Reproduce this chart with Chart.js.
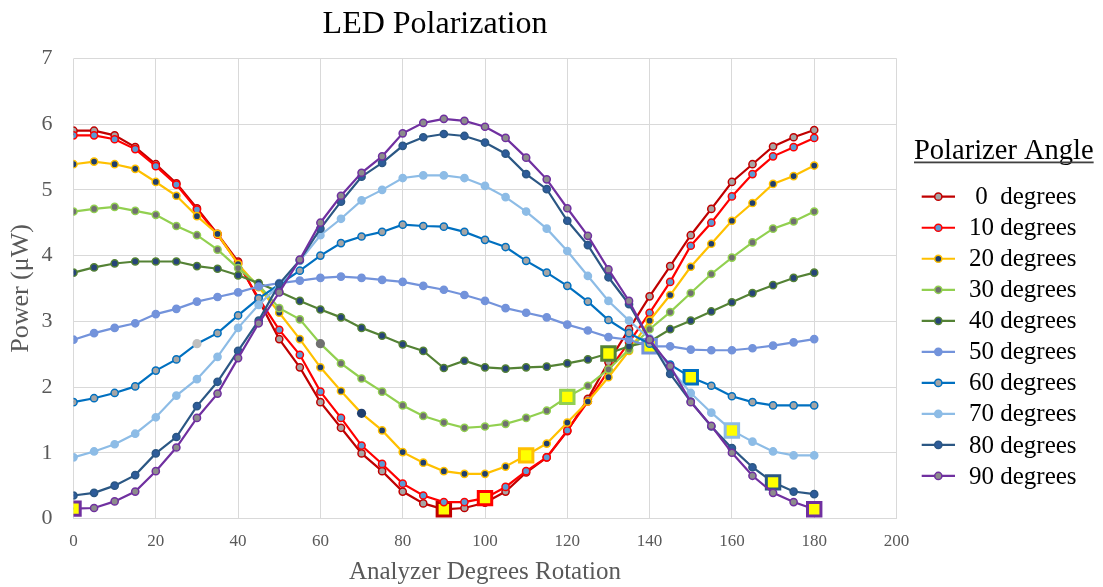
<!DOCTYPE html>
<html>
<head>
<meta charset="utf-8">
<title>LED Polarization</title>
<script src="https://cdn.jsdelivr.net/npm/chart.js@4.4.1/dist/chart.umd.min.js"></script>
<style>
  html, body { margin: 0; padding: 0; background: #ffffff; }
  #wrap { width: 1103px; height: 587px; }
</style>
</head>
<body>
<div id="wrap"><canvas id="chart" width="1103" height="587"></canvas></div>
<script>
// analyzer rotation (degrees)
const analyzer = [0, 5, 10, 15, 20, 25, 30, 35, 40, 45, 50, 55, 60, 65, 70, 75, 80, 85, 90,
                  95, 100, 105, 110, 115, 120, 125, 130, 135, 140, 145, 150, 155, 160, 165, 170, 175, 180];

// measured power (uW), one list per polarizer angle
const p0  = [5.90, 5.90, 5.83, 5.65, 5.39, 5.10, 4.72, 4.33, 3.91, 3.32, 2.73, 2.30, 1.77, 1.38, 0.99, 0.72, 0.41, 0.23, 0.14,
             0.16, 0.24, 0.41, 0.70, 0.93, 1.33, 1.82, 2.38, 2.88, 3.38, 3.84, 4.31, 4.71, 5.12, 5.39, 5.66, 5.80, 5.91];
const p10 = [5.83, 5.83, 5.77, 5.62, 5.36, 5.08, 4.70, 4.32, 3.88, 3.35, 2.87, 2.49, 1.93, 1.53, 1.11, 0.83, 0.53, 0.35, 0.25,
             0.25, 0.31, 0.48, 0.72, 0.93, 1.34, 1.78, 2.25, 2.68, 3.13, 3.60, 4.15, 4.50, 4.90, 5.24, 5.51, 5.65, 5.79];
const p20 = [5.39, 5.43, 5.39, 5.32, 5.12, 4.91, 4.60, 4.33, 3.87, 3.52, 3.13, 2.73, 2.30, 1.94, 1.60, 1.34, 1.01, 0.85, 0.72,
             0.68, 0.68, 0.79, 0.96, 1.14, 1.46, 1.78, 2.15, 2.55, 3.01, 3.40, 3.83, 4.18, 4.53, 4.80, 5.09, 5.21, 5.37];
const p30 = [4.67, 4.71, 4.74, 4.68, 4.62, 4.45, 4.31, 4.09, 3.81, 3.55, 3.20, 3.03, 2.66, 2.36, 2.13, 1.93, 1.72, 1.56, 1.46,
             1.38, 1.40, 1.44, 1.53, 1.64, 1.85, 2.02, 2.27, 2.57, 2.88, 3.14, 3.43, 3.72, 3.97, 4.20, 4.41, 4.52, 4.67];
const p40 = [3.74, 3.82, 3.88, 3.91, 3.91, 3.91, 3.84, 3.80, 3.70, 3.58, 3.45, 3.31, 3.18, 3.06, 2.90, 2.78, 2.65, 2.55, 2.29,
             2.40, 2.30, 2.28, 2.30, 2.31, 2.36, 2.42, 2.51, 2.62, 2.69, 2.88, 3.01, 3.15, 3.29, 3.43, 3.55, 3.66, 3.74];
const p50 = [2.72, 2.82, 2.90, 2.97, 3.11, 3.19, 3.30, 3.37, 3.44, 3.53, 3.58, 3.62, 3.66, 3.68, 3.66, 3.63, 3.60, 3.54, 3.48,
             3.40, 3.31, 3.20, 3.13, 3.06, 2.95, 2.86, 2.76, 2.72, 2.62, 2.62, 2.57, 2.56, 2.56, 2.59, 2.63, 2.68, 2.73];
const p60 = [1.77, 1.83, 1.91, 2.01, 2.25, 2.42, 2.66, 2.82, 3.09, 3.35, 3.56, 3.77, 4.00, 4.19, 4.29, 4.36, 4.47, 4.45, 4.44,
             4.36, 4.24, 4.13, 3.92, 3.74, 3.54, 3.30, 3.02, 2.82, 2.66, 2.34, 2.15, 2.02, 1.86, 1.77, 1.72, 1.72, 1.72];
const p70 = [0.93, 1.02, 1.13, 1.29, 1.54, 1.87, 2.12, 2.46, 2.90, 3.25, 3.55, 3.92, 4.31, 4.56, 4.84, 5.00, 5.18, 5.22, 5.22,
             5.18, 5.06, 4.89, 4.67, 4.41, 4.07, 3.69, 3.31, 3.01, 2.74, 2.28, 1.91, 1.61, 1.34, 1.17, 1.02, 0.96, 0.96];
const p80 = [0.35, 0.39, 0.50, 0.66, 0.99, 1.24, 1.71, 2.08, 2.55, 3.01, 3.57, 3.93, 4.41, 4.82, 5.20, 5.41, 5.67, 5.80, 5.85,
             5.82, 5.72, 5.55, 5.24, 5.01, 4.53, 4.16, 3.67, 3.26, 2.72, 2.20, 1.78, 1.40, 1.07, 0.78, 0.55, 0.41, 0.37];
const p90 = [0.15, 0.16, 0.26, 0.41, 0.72, 1.08, 1.53, 1.90, 2.44, 2.97, 3.44, 3.94, 4.50, 4.91, 5.26, 5.51, 5.86, 6.02, 6.08,
             6.05, 5.96, 5.79, 5.49, 5.16, 4.72, 4.30, 3.79, 3.31, 2.72, 2.32, 1.77, 1.41, 1.00, 0.65, 0.39, 0.25, 0.14];

const series = [p0, p10, p20, p30, p40, p50, p60, p70, p80, p90];
const seriesNames = [' 0  degrees', '10 degrees', '20 degrees', '30 degrees', '40 degrees',
                     '50 degrees', '60 degrees', '70 degrees', '80 degrees', '90 degrees'];
// analyzer angle of the minimum of each series (shown as a yellow square)
const minimumAt = [[90], [100], [110], [120], [130], [140], [150], [160], [170], [0, 180]];
// a few markers in the original have no outline: [series index, analyzer angle, fill]
const plainMarkers = [[2, 70, '#1F3E6E'], [3, 60, '#707070'], [6, 30, '#BFBFBF']];

const chartTitle = 'LED Polarization';
const legendTitle = 'Polarizer Angle';
const xTitle = 'Analyzer Degrees Rotation';
const yTitle = 'Power (μW)';

const lineColors = ['#C00000', '#FF0000', '#FFC000', '#92D050', '#548235',
                    '#7393DB', '#0070C0', '#8DBCE6', '#2B5784', '#7030A0'];
const dotColors  = ['#A5A5A5', '#5B9BD5', '#1F3E6E', '#707070', '#264478',
                    '#7393DB', '#A5A5A5', '#8DBCE6', '#2E5C9A', '#8C8C8C'];
const fontName = '"Liberation Serif", "Times New Roman", serif';

const datasets = series.map((vals, i) => {
  const isMin = idx => minimumAt[i].indexOf(analyzer[idx]) >= 0;
  const plain = idx => plainMarkers.find(m => m[0] === i && m[1] === analyzer[idx]);
  return {
    label: seriesNames[i],
    data: vals.map((v, k) => ({ x: analyzer[k], y: v })),
    borderColor: lineColors[i],
    borderWidth: 2.2,
    pointStyle: c => isMin(c.dataIndex) ? 'rect' : 'circle',
    pointRadius: c => isMin(c.dataIndex) ? 9.5 : (plain(c.dataIndex) ? 4.6 : 3.6),
    pointBorderWidth: c => isMin(c.dataIndex) ? 3 : (plain(c.dataIndex) ? 0 : 1.5),
    pointBorderColor: lineColors[i],
    pointBackgroundColor: c => {
      if (isMin(c.dataIndex)) return '#FFFF00';
      const p = plain(c.dataIndex);
      return p ? p[2] : dotColors[i];
    },
    tension: 0,
    order: 10 - i
  };
});

// chart title and legend drawn next to the plot
const extras = {
  id: 'extras',
  afterDraw(chart) {
    const ctx = chart.ctx;
    ctx.save();
    ctx.fillStyle = '#000000';
    ctx.font = '32px ' + fontName;
    ctx.textAlign = 'center';
    ctx.textBaseline = 'alphabetic';
    ctx.fillText(chartTitle, 435, 33);

    ctx.textAlign = 'left';
    ctx.font = '28.5px ' + fontName;
    ctx.fillText(legendTitle, 914, 159);
    const tw = ctx.measureText(legendTitle).width;
    ctx.fillStyle = '#404040';
    ctx.fillRect(914, 161.5, tw, 1.8);

    ctx.font = '25px ' + fontName;
    ctx.textBaseline = 'middle';
    seriesNames.forEach((name, i) => {
      const y = 196.7 + i * 31.03;
      ctx.strokeStyle = lineColors[i];
      ctx.lineWidth = 2.2;
      ctx.beginPath();
      ctx.moveTo(921.7, y);
      ctx.lineTo(955, y);
      ctx.stroke();
      ctx.beginPath();
      ctx.arc(938.3, y, 3.6, 0, Math.PI * 2);
      ctx.fillStyle = dotColors[i];
      ctx.fill();
      ctx.lineWidth = 1.5;
      ctx.stroke();
      ctx.fillStyle = '#000000';
      ctx.fillText(name, 969, y + 1);
    });
    ctx.restore();
  }
};

new Chart(document.getElementById('chart'), {
  type: 'line',
  data: { datasets: datasets },
  plugins: [extras],
  options: {
    responsive: false,
    devicePixelRatio: 1,
    animation: false,
    layout: { padding: { top: 58.4, right: 206.5, bottom: 0, left: 0 } },
    plugins: {
      legend: { display: false },
      title: { display: false },
      tooltip: { enabled: false }
    },
    scales: {
      x: {
        type: 'linear',
        min: 0,
        max: 200,
        afterFit: s => { s.height = 68.5; },
        ticks: { stepSize: 20, padding: 13, color: '#595959', font: { family: fontName, size: 17 } },
        grid: { color: '#D9D9D9', lineWidth: 1, drawTicks: false },
        border: { color: '#D9D9D9' },
        title: { display: true, text: xTitle, color: '#595959', padding: { top: 0, bottom: 0 },
                 font: { family: fontName, size: 25 } }
      },
      y: {
        min: 0,
        max: 7,
        afterFit: s => { s.width = 73.5; },
        ticks: { stepSize: 1, padding: 21, color: '#595959', font: { family: fontName, size: 22 } },
        grid: { color: '#D9D9D9', lineWidth: 1, drawTicks: false },
        border: { display: false },
        title: { display: true, text: yTitle, color: '#595959', padding: { top: 6, bottom: 0 },
                 font: { family: fontName, size: 26 } }
      }
    }
  }
});
</script>
</body>
</html>
